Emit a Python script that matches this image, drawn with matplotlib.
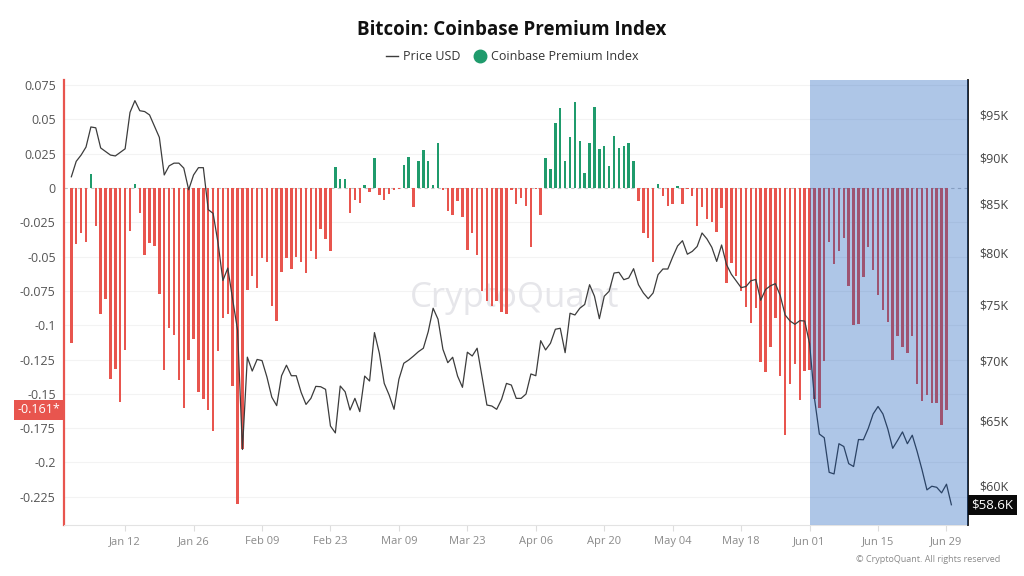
import numpy as np
import pandas as pd
import matplotlib
matplotlib.use("Agg")
import matplotlib.pyplot as plt
from matplotlib.lines import Line2D

plt.rcParams['font.family'] = ['Open Sans', 'DejaVu Sans']

# ---------------- data ----------------
start_date = "2026-01-01"

premium = [
    -0.113, -0.041, -0.033, -0.039, 0.010, -0.0275, -0.092, -0.081, -0.139, -0.132,
    -0.156, -0.118, -0.031, 0.0027, -0.018, -0.049, -0.040, -0.042, -0.077, -0.133,
    -0.102, -0.107, -0.140, -0.160, -0.125, -0.110, -0.149, -0.154, -0.162, -0.177,
    -0.119, -0.095, -0.092, -0.144, -0.230, -0.190, -0.074, -0.064, -0.073, -0.051,
    -0.054, -0.086, -0.097, -0.061, -0.051, -0.059, -0.050, -0.054, -0.062, -0.046,
    -0.052, -0.030, -0.037, -0.046, 0.0155, 0.0065, 0.0068, -0.018, -0.0085, -0.011,
    0.0025, -0.003, 0.022, -0.0048, -0.0088, -0.0046, -0.0017, -0.0005, 0.0165, 0.0225,
    -0.014, 0.0195, 0.0275, 0.0195, 0.0025, 0.033, -0.0017, -0.017, -0.0195, -0.0095,
    -0.021, -0.0455, -0.033, -0.049, -0.075, -0.082, -0.086, -0.082, -0.0905, -0.0915,
    -0.0017, -0.0118, -0.007, -0.0128, -0.043, -0.0005, -0.0195, 0.022, 0.0135, 0.0475,
    0.0585, 0.0195, 0.0372, 0.063, 0.034, 0.011, 0.033, 0.059, 0.0285, 0.0305,
    0.016, 0.038, 0.0295, 0.0305, 0.0325, 0.020, -0.0097, -0.033, -0.0365, -0.054,
    0.003, -0.006, -0.013, -0.0115, 0.0018, -0.0115, -0.0005, -0.0055, -0.028, -0.014,
    -0.0228, -0.025, -0.032, -0.0143, -0.069, -0.055, -0.0645, -0.075, -0.087, -0.0985,
    -0.0875, -0.127, -0.134, -0.116, -0.095, -0.137, -0.180, -0.143, -0.1285, -0.1545,
    -0.1335, -0.1325, -0.154, -0.160, -0.126, -0.0396, -0.0555, -0.0456, -0.0367, -0.0717,
    -0.100, -0.099, -0.065, -0.0432, -0.060, -0.078, -0.0886, -0.098, -0.125, -0.108,
    -0.116, -0.120, -0.108, -0.143, -0.155, -0.151, -0.157, -0.157, -0.173, -0.1616,
]

price_usd_k = [
    87.9, 89.6, 90.3, 91.2, 93.5, 93.4, 91.1, 90.7, 90.3, 90.2,
    90.6, 91.0, 95.2, 96.6, 95.4, 95.3, 94.9, 93.6, 92.3, 88.1,
    89.1, 89.4, 89.4, 88.85, 86.5, 88.1, 88.9, 88.9, 84.4, 84.0,
    81.0, 77.3, 78.5, 75.5, 72.7, 62.7, 70.3, 69.1, 70.1, 70.0,
    68.6, 66.9, 66.2, 68.7, 69.6, 68.7, 68.7, 67.3, 66.3, 66.8,
    67.8, 67.77, 67.55, 64.55, 64.0, 67.83, 67.35, 65.84, 66.8, 65.71,
    68.67, 68.25, 72.47, 70.64, 68.05, 67.08, 65.9, 68.4, 69.77, 70.05,
    70.40, 70.78, 71.08, 72.56, 74.69, 73.68, 70.99, 69.82, 70.29, 68.67,
    67.72, 70.73, 70.40, 71.08, 68.62, 66.25, 66.17, 65.9, 66.72, 68.05,
    67.91, 66.8, 66.8, 67.16, 68.85, 68.7, 71.75, 70.93, 71.52, 72.77,
    72.86, 70.69, 74.23, 74.07, 74.69, 75.04, 76.9, 75.81, 73.73, 75.81,
    76.28, 78.02, 78.09, 77.38, 77.54, 78.44, 76.9, 76.12, 75.58, 76.12,
    77.86, 78.41, 78.41, 79.59, 80.68, 81.21, 79.86, 80.14, 80.63, 81.99,
    81.39, 80.55, 79.15, 80.78, 78.85, 77.9, 77.25, 76.62, 76.73, 77.28,
    77.40, 75.43, 76.45, 76.8, 77.0, 75.87, 74.07, 73.52, 73.22, 73.55,
    73.52, 71.48, 66.8, 63.91, 63.62, 60.95, 60.83, 63.15, 62.93, 61.61,
    61.39, 63.48, 63.46, 64.36, 65.52, 66.13, 65.52, 64.31, 62.79, 63.41,
    64.08, 63.15, 63.82, 62.54, 61.14, 59.64, 59.91, 59.83, 59.42, 60.06,
    58.55,
]

tick_dates = ["2026-01-12", "2026-01-26", "2026-02-09", "2026-02-23", "2026-03-09",
              "2026-03-23", "2026-04-06", "2026-04-20", "2026-05-04", "2026-05-18",
              "2026-06-01", "2026-06-15", "2026-06-29"]
tick_labels = ["Jan 12", "Jan 26", "Feb 09", "Feb 23", "Mar 09", "Mar 23", "Apr 06",
               "Apr 20", "May 04", "May 18", "Jun 01", "Jun 15", "Jun 29"]

left_ticks = [0.075, 0.05, 0.025, 0, -0.025, -0.05, -0.075, -0.1, -0.125, -0.15,
              -0.175, -0.2, -0.225]
left_tick_labels = ["0.075", "0.05", "0.025", "0", "-0.025", "-0.05", "-0.075", "-0.1",
                    "-0.125", "-0.15", "-0.175", "-0.2", "-0.225"]
right_ticks = [60, 65, 70, 75, 80, 85, 90, 95]
right_tick_labels = ["$60K", "$65K", "$70K", "$75K", "$80K", "$85K", "$90K", "$95K"]

highlight_start = "2026-06-01"
last_premium_label = "-0.161*"
last_price_label = "$58.6K"

# ---------------- styling ----------------
RED = "#e8554e"
GREEN = "#1f9b6c"
LINE = "#3c3c3c"

dates_price = pd.date_range(start_date, periods=len(price_usd_k), freq="D")
dates_bar = pd.date_range(start_date, periods=len(premium), freq="D")
prem = np.array(premium)
colors = [GREEN if v >= 0 else RED for v in prem]

fig = plt.figure(figsize=(10.24, 5.76), dpi=100)
ax = fig.add_axes([64 / 1024, 1 - 525 / 576, 904 / 1024, 445 / 576])
ax2 = ax.twinx()

t0 = pd.Timestamp(start_date)
x_left = t0 - pd.Timedelta(hours=36)
x_right = t0 + pd.Timedelta(hours=183.4 * 24)
ax.set_xlim(x_left, x_right)

# grid + zero line
for v in left_ticks:
    if v != 0:
        ax.axhline(v, color="#f3f3f3", lw=0.8, zorder=0)
ax.axhline(0, color="#c4c4c4", lw=0.8, ls=(0, (3, 3)), zorder=0.5)

# watermark
ax.text(0.499, 0.51, "CryptoQuant", transform=ax.transAxes, ha="center", va="center",
        fontsize=25, color="#e6e6ea", zorder=0.2)

ax.bar(dates_bar, prem, width=0.5, color=colors, zorder=2, linewidth=0)
ax.set_ylim(-0.2456, 0.0787)
ax.set_yticks(left_ticks)
ax.set_yticklabels(left_tick_labels)
ax.tick_params(axis="y", length=0, labelsize=9, labelcolor="#555555", pad=6)

ax.set_xticks(pd.to_datetime(tick_dates))
ax.set_xticklabels(tick_labels)
ax.tick_params(axis="x", length=4, color="#dddddd", labelsize=8, labelcolor="#8a8a8a", pad=4)

for s in ["top", "right"]:
    ax.spines[s].set_visible(False)
ax.spines["left"].set_color(RED)
ax.spines["left"].set_linewidth(1.6)
ax.spines["bottom"].set_color("#e3e3e3")

# price line
ax2.plot(dates_price, price_usd_k, color=LINE, lw=0.9, zorder=3)
ax2.set_yscale("log")
ax2.set_ylim(57.1, 99.1)
ax2.set_yticks(right_ticks)
ax2.set_yticklabels(right_tick_labels)
ax2.minorticks_off()
ax2.tick_params(axis="y", which="both", length=0, labelsize=9, labelcolor="#444444", pad=8)
for s in ["top", "left", "bottom"]:
    ax2.spines[s].set_visible(False)
ax2.spines["right"].set_color("#111111")
ax2.spines["right"].set_linewidth(1.3)

# highlight region overlay (drawn over bars and line)
ax2.axvspan(pd.Timestamp(highlight_start), x_right, color="#0952b9",
            alpha=0.33, lw=0, zorder=5)
ax.set_xlim(x_left, x_right)

# value badges
ax.annotate(last_premium_label, xy=(-0.004, prem[-1]), xycoords=("axes fraction", "data"),
            ha="right", va="center", fontsize=9, color="white", zorder=10,
            bbox=dict(boxstyle="square,pad=0.28", fc=RED, ec="none"),
            annotation_clip=False)
ax2.annotate(last_price_label, xy=(1.004, price_usd_k[-1]), xycoords=("axes fraction", "data"),
             ha="left", va="center", fontsize=9.5, color="white", zorder=10,
             bbox=dict(boxstyle="square,pad=0.28", fc="#0a0a0a", ec="none"),
             annotation_clip=False)

# title + legend
fig.text(0.5, 1 - 30 / 576, "Bitcoin: Coinbase Premium Index", ha="center", va="center",
         fontsize=13.5, fontweight="bold", color="#111111")
handles = [Line2D([0], [0], color=LINE, lw=1),
           Line2D([0], [0], marker="o", color="none", markerfacecolor=GREEN,
                  markeredgecolor=GREEN, markersize=9)]
fig.legend(handles, ["Price USD", "Coinbase Premium Index"], loc="center",
           bbox_to_anchor=(0.5, 1 - 57 / 576), ncol=2, frameon=False, fontsize=9,
           handlelength=1.0, handletextpad=0.4, columnspacing=1.0, labelcolor="#333333")

fig.text(0.977, 1 - 560 / 576, "\u00a9 CryptoQuant. All rights reserved", ha="right",
         va="center", fontsize=6.5, color="#8a8a8a")

fig.savefig("out.png", dpi=100)
